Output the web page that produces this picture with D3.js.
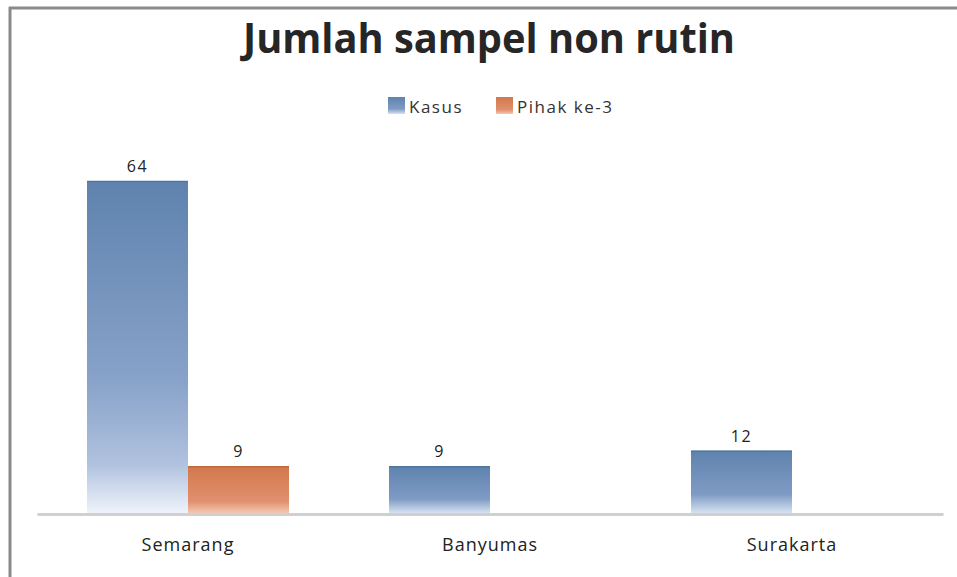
<!DOCTYPE html>
<html><head><meta charset="utf-8">
<script src="https://cdn.jsdelivr.net/npm/d3@7"></script>
<style>html,body{margin:0;padding:0;background:#fff;}svg{display:block;}</style>
</head><body>
<script>
const categories = ["Semarang", "Banyumas", "Surakarta"];
const seriesNames = ["Kasus", "Pihak ke-3"];
const kasus = [64, 9, 12];
const pihak = [9, null, null];
const seriesValues = [kasus, pihak];
const title = "Jumlah sampel non rutin";

const W = 957, H = 577;
const svg = d3.select("body").append("svg").attr("width", W).attr("height", H);
const defs = svg.append("defs");
const gb = defs.append("linearGradient").attr("id","gBlue").attr("x1",0).attr("y1",0).attr("x2",0).attr("y2",1);
gb.append("stop").attr("offset","0%").attr("stop-color","#5e83ae");
gb.append("stop").attr("offset","60%").attr("stop-color","#88a2c9");
gb.append("stop").attr("offset","85%").attr("stop-color","#afc1de");
gb.append("stop").attr("offset","100%").attr("stop-color","#eef3fb");
const gbs = defs.append("linearGradient").attr("id","gBlueS").attr("x1",0).attr("y1",0).attr("x2",0).attr("y2",1);
gbs.append("stop").attr("offset","0%").attr("stop-color","#5e83ae");
gbs.append("stop").attr("offset","70%").attr("stop-color","#7f9bc4");
gbs.append("stop").attr("offset","100%").attr("stop-color","#d6e2f3");
const go = defs.append("linearGradient").attr("id","gOrange").attr("x1",0).attr("y1",0).attr("x2",0).attr("y2",1);
go.append("stop").attr("offset","0%").attr("stop-color","#d2784c");
go.append("stop").attr("offset","75%").attr("stop-color","#e0906e");
go.append("stop").attr("offset","100%").attr("stop-color","#f3c8b2");

// frame
svg.append("line").attr("x1",9).attr("x2",W).attr("y1",8).attr("y2",8).attr("stroke","#8a8a8a").attr("stroke-width",3);
svg.append("line").attr("x1",10).attr("x2",10).attr("y1",7).attr("y2",H).attr("stroke","#8a8a8a").attr("stroke-width",3);

const x0 = d3.scaleBand().domain(categories).range([37, 943]);
const x1 = d3.scaleBand().domain(seriesNames).range([50, x0.bandwidth()-50]);
const base = 513;
const y = d3.scaleLinear().domain([0, 64]).range([base, 181]);

const font = "'Open Sans', 'DejaVu Sans', sans-serif";

svg.append("text").attr("x", 489).attr("y", 53).attr("text-anchor","middle")
  .attr("font-family", "'Open Sans', sans-serif").attr("font-weight","bold").attr("font-size",42)
  .attr("fill","#262626").attr("textLength",492).attr("lengthAdjust","spacingAndGlyphs").text(title);

// legend
const legend = [{name:"Kasus", fill:"url(#gBlueS)", x:388},{name:"Pihak ke-3", fill:"url(#gOrange)", x:496}];
legend.forEach(l=>{
  svg.append("rect").attr("x",l.x).attr("y",97).attr("width",17).attr("height",17).attr("fill",l.fill);
  svg.append("text").attr("x",l.x+21).attr("y",113).attr("font-family",font).attr("font-size",17)
    .attr("letter-spacing",1.5).attr("fill","#333").text(l.name);
});

// bars
categories.forEach((c,i)=>{
  seriesNames.forEach((s,j)=>{
    const v = seriesValues[j][i];
    if (v == null) return;
    const bx = x0(c) + x1(s), bw = x1.bandwidth();
    const h = base - y(v);
    const fill = j===0 ? (h>100 ? "url(#gBlue)" : "url(#gBlueS)") : "url(#gOrange)";
    svg.append("rect").attr("x",bx).attr("y",y(v)).attr("width",bw).attr("height",h).attr("fill",fill);
    svg.append("line").attr("x1",bx).attr("x2",bx+bw).attr("y1",y(v)+0.5).attr("y2",y(v)+0.5)
      .attr("stroke", j===0 ? "#4f74a0" : "#c06a40").attr("stroke-width",1.5);
    svg.append("text").attr("x",bx+bw/2).attr("y",y(v)-9).attr("text-anchor","middle")
      .attr("font-family",font).attr("font-size",16).attr("letter-spacing",1.5).attr("fill","#222").text(v);
  });
});

// axis
const axis = svg.append("g").attr("transform",`translate(0,${base+1})`)
  .call(d3.axisBottom(x0).tickSize(0).tickPadding(24));
axis.select(".domain").attr("stroke","#d0d0d0").attr("stroke-width",3);
axis.selectAll("text").attr("font-family",font).attr("font-size",18).attr("letter-spacing",1)
  .attr("fill","#222");
</script>
</body></html>
